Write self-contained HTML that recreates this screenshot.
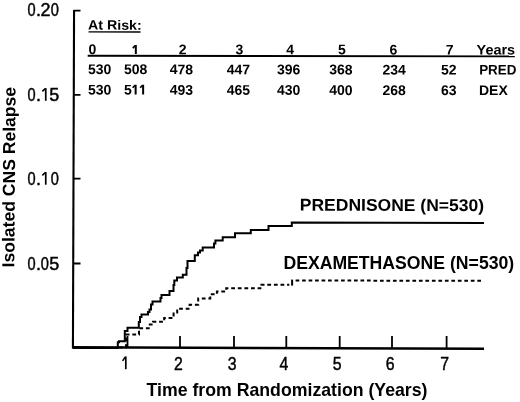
<!DOCTYPE html>
<html><head><meta charset="utf-8"><style>
html,body{margin:0;padding:0;background:#fff;width:520px;height:402px;overflow:hidden}
svg{display:block;will-change:transform}
text{font-family:"Liberation Sans",sans-serif;fill:#000}
.r{font-size:17px;stroke:#000;stroke-width:0.45px}
.yr{font-size:18px;stroke:#000;stroke-width:0.45px}
.b{font-weight:bold}
.t{font-size:14px;font-weight:bold}
.lab{font-size:16.5px;font-weight:bold}
</style></head><body>
<svg width="520" height="402" viewBox="0 0 520 402">
<rect width="520" height="402" fill="#fff"/>
<g stroke="#000" fill="none">
<path d="M74.06 10 L72.93 348.5" stroke-width="2.1"/>
<path d="M72.3 347.25 L484 348.8" stroke-width="2.4"/>
<path d="M74 10.7 H80.5 M74 94.8 H80.5 M74 178.7 H80.5 M74 263.5 H80.5" stroke-width="1.8"/>
<path d="M127.5 336 V348 M180 336 V348 M234 336 V348 M286.3 336 V348 M339.7 336 V348 M392 336 V348 M446.6 336 V348" stroke-width="1.8"/>
</g>
<text class="yr" text-anchor="middle" transform="translate(31.55,16.2) scale(0.81,1)">0</text>
<text class="yr" text-anchor="middle" x="38.4" y="16.2">.</text>
<text class="yr" text-anchor="middle" x="45.5" y="16.2">2</text>
<text class="yr" text-anchor="middle" transform="translate(54.9,16.2) scale(0.81,1)">0</text>
<text class="yr" text-anchor="middle" transform="translate(31.55,100.8) scale(0.81,1)">0</text>
<text class="yr" text-anchor="middle" x="38.4" y="100.8">.</text>
<path d="M45.75 100.80 V88.10" stroke="#000" stroke-width="1.7" fill="none"/><path d="M45.30 88.60 L42.35 91.40" stroke="#000" stroke-width="1.6" fill="none" stroke-linecap="butt"/>
<text class="yr" text-anchor="middle" x="54.3" y="100.8">5</text>
<text class="yr" text-anchor="middle" transform="translate(31.55,184.7) scale(0.81,1)">0</text>
<text class="yr" text-anchor="middle" x="38.4" y="184.7">.</text>
<path d="M45.75 184.70 V172.00" stroke="#000" stroke-width="1.7" fill="none"/><path d="M45.30 172.50 L42.35 175.30" stroke="#000" stroke-width="1.6" fill="none" stroke-linecap="butt"/>
<text class="yr" text-anchor="middle" transform="translate(54.9,184.7) scale(0.81,1)">0</text>
<text class="yr" text-anchor="middle" transform="translate(31.55,269.6) scale(0.81,1)">0</text>
<text class="yr" text-anchor="middle" x="38.4" y="269.6">.</text>
<text class="yr" text-anchor="middle" transform="translate(44.9,269.6) scale(0.81,1)">0</text>
<text class="yr" text-anchor="middle" x="54.3" y="269.6">5</text>
<text class="yr" text-anchor="middle" transform="translate(178.5,369.6) scale(0.88,1)">2</text>
<text class="yr" text-anchor="middle" transform="translate(232.1,369.6) scale(0.88,1)">3</text>
<text class="yr" text-anchor="middle" transform="translate(283.9,369.9) scale(0.88,1)">4</text>
<text class="yr" text-anchor="middle" transform="translate(337.1,369.9) scale(0.88,1)">5</text>
<text class="yr" text-anchor="middle" transform="translate(390.1,370.2) scale(0.88,1)">6</text>
<text class="yr" text-anchor="middle" transform="translate(444.6,370.3) scale(0.88,1)">7</text>
<path d="M125.80 369.20 V356.40" stroke="#000" stroke-width="1.7" fill="none"/><path d="M125.35 356.90 L122.60 360.90" stroke="#000" stroke-width="1.6" fill="none" stroke-linecap="butt"/>
<text class="b" style="font-size:17.4px" transform="translate(14.3,267.4) rotate(-89.6)" textLength="180.5" lengthAdjust="spacingAndGlyphs">Isolated CNS Relapse</text>
<text class="b" style="font-size:17.7px" x="146.5" y="395.7" textLength="281" lengthAdjust="spacingAndGlyphs">Time from Randomization (Years)</text>
<g transform="rotate(0.085 88 55.75)">
<g class="t">
<text x="88" y="29.6" style="font-size:13.5px" textLength="53.7" lengthAdjust="spacingAndGlyphs">At Risk:</text>
<text x="88.5" y="54">0</text>
<text x="182.6" y="54" text-anchor="middle">2</text>
<text x="239.5" y="54" text-anchor="middle">3</text>
<text x="290.2" y="54" text-anchor="middle">4</text>
<text x="341.8" y="54" text-anchor="middle">5</text>
<text x="393.4" y="54" text-anchor="middle">6</text>
<text x="449.6" y="54" text-anchor="middle">7</text>
<text x="476.6" y="54" textLength="38.5" lengthAdjust="spacingAndGlyphs">Years</text>
<text x="88" y="74">530</text>
<text x="124" y="74">508</text>
<text x="169.7" y="74">478</text>
<text x="226.8" y="74">447</text>
<text x="277" y="74">396</text>
<text x="329.3" y="74">368</text>
<text x="382.5" y="74">234</text>
<text x="441" y="74">52</text>
<text x="479.2" y="74" textLength="37.2" lengthAdjust="spacingAndGlyphs">PRED</text>
<text x="88" y="94.5">530</text>
<text x="169.7" y="94.5">493</text>
<text x="226.8" y="94.5">465</text>
<text x="277" y="94.5">430</text>
<text x="329.3" y="94.5">400</text>
<text x="382.5" y="94.5">268</text>
<text x="441" y="94.5">63</text>
<text x="124" y="94.5">5</text>
<text x="479" y="94.5">DEX</text>
</g>
<path d="M135.80 54.00 V45.00" stroke="#000" stroke-width="2.0" fill="none"/><path d="M135.20 45.50 L132.80 48.00" stroke="#000" stroke-width="1.7" fill="none" stroke-linecap="butt"/>
<path d="M135.70 94.50 V84.70" stroke="#000" stroke-width="2.0" fill="none"/><path d="M135.10 85.20 L132.70 87.70" stroke="#000" stroke-width="1.7" fill="none" stroke-linecap="butt"/>
<path d="M143.20 94.50 V84.70" stroke="#000" stroke-width="2.0" fill="none"/><path d="M142.60 85.20 L140.20 87.70" stroke="#000" stroke-width="1.7" fill="none" stroke-linecap="butt"/>
<g stroke="#000" fill="none">
<path d="M88.5 31.9 H140.5" stroke-width="1.3"/>
<path d="M87.7 55.75 H514.8" stroke-width="1.9"/>
</g></g>
<text class="lab" style="font-size:17px" transform="rotate(0.18 300 210.6)" x="299.8" y="210.6" textLength="184.2" lengthAdjust="spacingAndGlyphs">PREDNISONE (N=530)</text>
<text class="lab" style="font-size:17.5px" x="283.4" y="269" textLength="230.8" lengthAdjust="spacingAndGlyphs">DEXAMETHASONE (N=530)</text>
<path fill="none" stroke="#000" stroke-width="2" d="M73 347.9 H117.8 V342.3 H119 V341.3 H124.8 V331 H127.5 V327.8 H138.8 V322 H140 V317 H141.5 V314.5 H148 V312 H149.5 V309.5 H151 V304.5 H152.5 V301.5 H160.5 V298 H161.5 V295 H169.5 V291 H173.5 V285 H174.3 V280.4 H177 V277.6 H182.8 V274.8 H186.5 V268 H187.5 V261 H194.8 V255.3 H198 V252.5 H200 V250.4 H202.7 V247.6 H214 V243.5 H215.4 V240.4 H222.7 V237.3 H235 V233.2 H250.8 V230 H268.5 V226 H291.8 V222.4 L484 222.9"/>
<path fill="none" stroke="#000" stroke-width="2" stroke-dasharray="3.8 2.8" d="M119 347.6 H126 V334.5 H139 V328.3 H149.8 V324.6 H153 V321.7 H164.2 V318 H173.6 V312.5 H177.2 V308.7 H189.6 V304.7 H198.2 V298.4 H210.3 V294.2 H216.9 V291.5 H226.2 V288.2 H261.4 V284.7 H289.3"/>
<path fill="none" stroke="#000" stroke-width="2" d="M292.1 285.6 V279.6"/>
<path fill="none" stroke="#000" stroke-width="2" stroke-dasharray="3.7 2.79" d="M295.6 280.5 L481 280.8"/>
</svg>
</body></html>
